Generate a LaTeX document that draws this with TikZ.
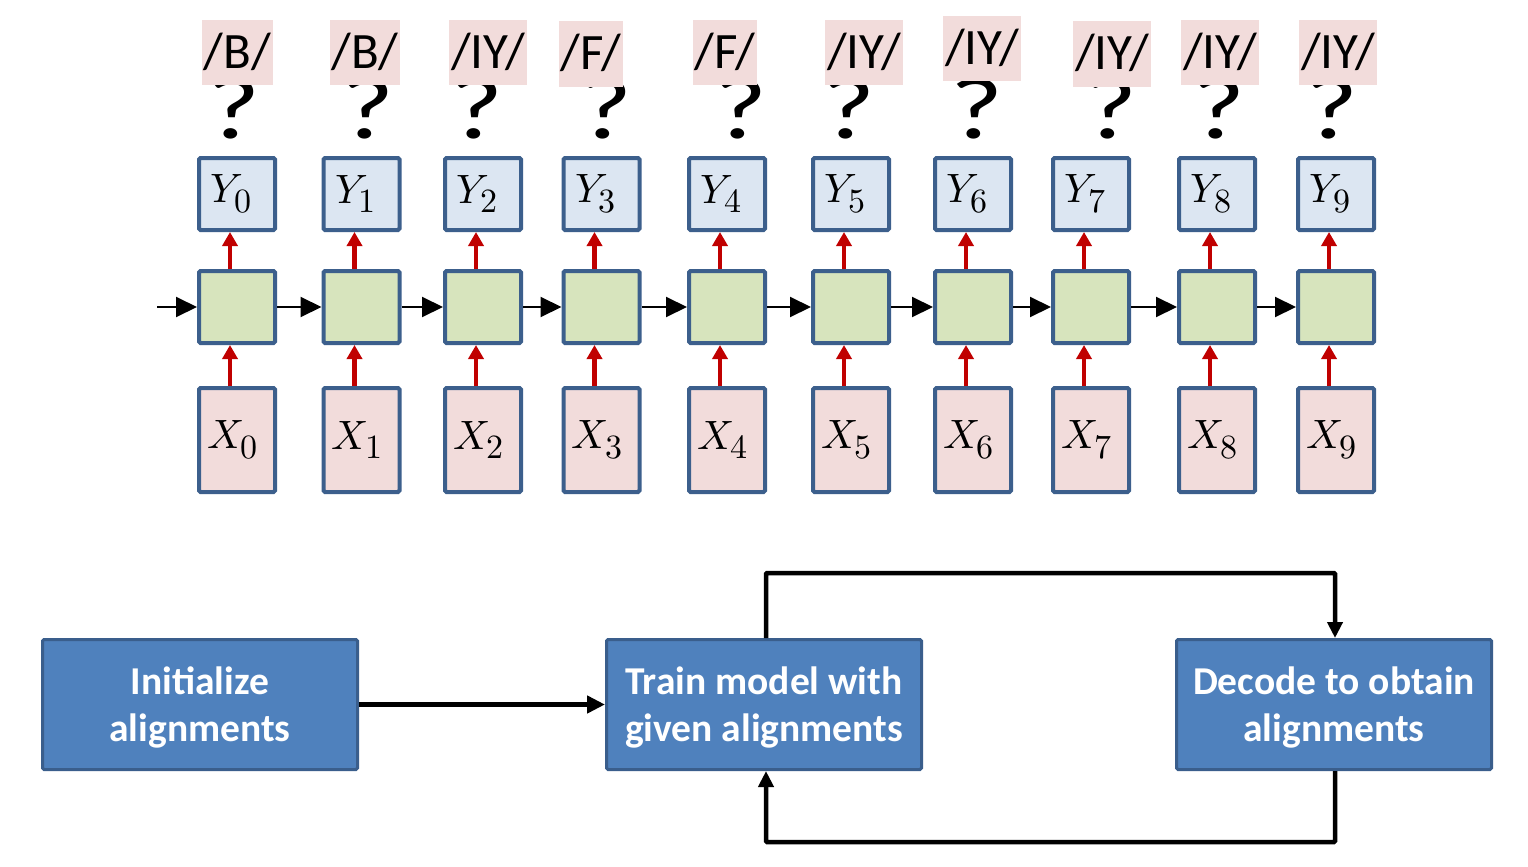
\documentclass[tikz,border=0pt]{standalone}
\usepackage{fontspec}
\setmainfont{Carlito}
\newfontfamily\lmm{latinmodern-math.otf}
\usetikzlibrary{arrows.meta}
\definecolor{cellborder}{HTML}{3C5F8C}
\definecolor{yfill}{HTML}{DCE6F2}
\definecolor{gfill}{HTML}{D7E4BD}
\definecolor{pfill}{HTML}{F2DCDB}
\definecolor{redar}{HTML}{C00000}
\definecolor{bluefill}{HTML}{4F81BD}
\definecolor{blueborder}{HTML}{3A5E8C}
\newcommand\vlab[3]{\raisebox{#3}{\lmm\fontsize{41}{41}\selectfont #1\raisebox{-9.5pt}{\fontsize{34}{34}\selectfont #2}}}
\begin{document}
\begin{tikzpicture}[x=1pt,y=-1pt,
  cell/.style={draw=cellborder, line width=4pt, rounded corners=1.5pt, minimum width=76pt, inner sep=0pt},
  ybox/.style={cell, fill=yfill, minimum height=72pt},
  gbox/.style={cell, fill=gfill, minimum height=72pt},
  xbox/.style={cell, fill=pfill, minimum height=104pt},
  phon/.style={fill=pfill, inner sep=0pt, minimum height=65pt, text height=31pt, text depth=0pt, font=\fontsize{51}{51}\selectfont},
  qmark/.style={anchor=base, inner sep=0pt, font=\fontsize{88}{88}\selectfont},
  redarrow/.style={draw=redar, line width=4.5pt, -{Triangle[width=15pt,length=14pt]}},
  harrow/.style={draw=black, line width=2pt, -{Triangle[width=20pt,length=21pt]}},
  bigbox/.style={draw=blueborder, fill=bluefill, line width=3pt, rounded corners=1.5pt, minimum width=315pt, minimum height=130pt, text=white, align=center, text height=76pt, text depth=2pt, font=\fontsize{39.5}{47}\selectfont\bfseries},
  flow/.style={draw=black, line width=5pt, -{Triangle[width=17pt,length=18pt]}},
  loopline/.style={draw=black, line width=4.5pt, -{Triangle[width=15pt,length=16pt]}}
]
\useasboundingbox (0,0) rectangle (1528,867);
\fill[white] (0,0) rectangle (1528,867);

\foreach \i/\cx/\lx/\ly/\lw/\ph/\qx in {
  0/237/237.5/52.5/71/B/234,
  1/361.5/365/52.5/70/B/368,
  2/483/488/52.5/78/IY/477,
  3/601.5/591/54/64/F/606,
  4/727/725/52.5/64/F/741,
  5/851/864/52.5/78/IY/849,
  6/973/982/48.5/78/IY/977,
  7/1091/1112/54/78/IY/1111,
  8/1217/1220/52.5/78/IY/1219,
  9/1336/1338/52.5/78/IY/1332}{
  \node[qmark] (q\i) at (\qx,138) {\scalebox{1.3}[1]{?}};
  \node[phon, minimum width=\lw pt] (p\i) at (\lx,\ly) {/\ph/};
  \node[ybox] (y\i) at (\cx,194) {\vlab{𝑌}{\i}{-3.5pt}\hspace*{12pt}};
  \node[gbox] (h\i) at (\cx,307) {};
  \node[xbox] (x\i) at (\cx,440) {\vlab{𝑋}{\i}{-4pt}\hspace*{9pt}};
  \draw[redarrow] ([xshift=-7pt]x\i.north) -- ([xshift=-7pt]h\i.south);
  \draw[redarrow] ([xshift=-7pt]h\i.north) -- ([xshift=-7pt]y\i.south);
}
\coordinate (hin) at (157,307);
\draw[harrow] (hin) -- (h0.west);
\foreach \i [evaluate=\i as \j using int(\i+1)] in {0,...,8}{
  \draw[harrow] (h\i.east) -- (h\j.west);
}

\node[bigbox] (init) at (200,704.5) {Initialize\\alignments};
\node[bigbox] (train) at (764,704.5) {Train model with\\given alignments};
\node[bigbox] (decode) at (1334,704.5) {Decode to obtain\\alignments};
\draw[flow] (init.east) -- (train.west);
\coordinate (topc) at (1050,573);
\coordinate (botc) at (1050,842);
\draw[loopline, rounded corners=1pt] ([xshift=2pt]train.north) |- (topc) -| ([xshift=1pt]decode.north);
\draw[loopline, rounded corners=1pt] ([xshift=1pt]decode.south) |- (botc) -| ([xshift=2pt]train.south);
\end{tikzpicture}
\end{document}
